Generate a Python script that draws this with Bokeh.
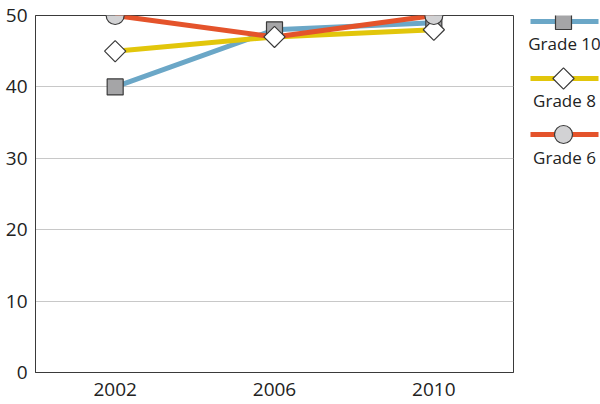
import math
from bokeh.plotting import figure
from bokeh.models import FactorRange, Range1d, ColumnDataSource, FixedTicker
from bokeh.layouts import row
from bokeh.embed import file_html
from bokeh.resources import INLINE
from bokeh.core.properties import value

# ---- data ----
years = ["2002", "2006", "2010"]
grade10 = [40, 48, 49]
grade8 = [45, 47, 48]
grade6 = [50, 47, 50]
grade6_marker_shown = [True, False, True]
series_names = ["Grade 10", "Grade 8", "Grade 6"]
y_ticks = [0, 10, 20, 30, 40, 50]

# ---- styles ----
FONT = "Open Sans"
C_BLUE = "#6ba7c7"
C_YELLOW = "#e2c60b"
C_RED = "#e4532b"
C_EDGE = "#3a3a3a"
SQ_FILL = "#a5a5a7"
CI_FILL = "#d2d2d4"
DI_FILL = "#ffffff"
LW = 5
H = 404
TOP = 15
BOTTOM = 32

p = figure(x_range=FactorRange(factors=years), y_range=Range1d(0, 50),
           width=514, height=H, output_backend="svg", toolbar_location=None,
           min_border_left=35, min_border_right=1, min_border_top=TOP, min_border_bottom=BOTTOM)
p.outline_line_color = C_EDGE
p.outline_line_width = 1
p.background_fill_color = "white"
p.border_fill_color = "white"
p.xgrid.grid_line_color = None
p.ygrid.grid_line_color = "#c8c8c8"
p.ygrid.grid_line_width = 1
p.yaxis.ticker = FixedTicker(ticks=y_ticks)
for ax in (p.xaxis[0], p.yaxis[0]):
    ax.axis_line_color = C_EDGE
    ax.major_tick_line_color = None
    ax.minor_tick_line_color = None
    ax.major_tick_out = 0
    ax.major_tick_in = 0
    ax.major_label_text_font = FONT
    ax.major_label_text_font_size = "19px"
    ax.major_label_text_color = "#222222"
p.yaxis.major_label_standoff = 8
p.xaxis.major_label_standoff = 10

src = ColumnDataSource(dict(x=years, g10=grade10, g8=grade8, g6=grade6))
p.line("x", "g10", source=src, line_color=C_BLUE, line_width=LW)
p.line("x", "g8", source=src, line_color=C_YELLOW, line_width=LW)
p.line("x", "g6", source=src, line_color=C_RED, line_width=LW)

p.scatter("x", "g10", source=src, marker="square", size=16, fill_color=SQ_FILL,
          line_color=C_EDGE, line_width=1.2)
p.scatter("x", "g8", source=src, marker="square", angle=math.pi / 4, size=15,
          fill_color=DI_FILL, line_color=C_EDGE, line_width=1.2)
g6x = [x for x, s in zip(years, grade6_marker_shown) if s]
g6y = [y for y, s in zip(grade6, grade6_marker_shown) if s]
p.scatter(g6x, g6y, marker="circle", size=18, fill_color=CI_FILL,
          line_color=C_EDGE, line_width=1.2)

# ---- legend panel (pixel-like coordinates, frame aligned with main plot) ----
LW_W = 86
lg = figure(x_range=Range1d(0, LW_W), y_range=Range1d(H - BOTTOM, TOP),
            width=LW_W, height=H, output_backend="svg", toolbar_location=None,
            min_border_left=0, min_border_right=0,
            min_border_top=TOP, min_border_bottom=BOTTOM)
lg.axis.visible = False
lg.grid.visible = False
lg.outline_line_color = None
lg.background_fill_color = "white"
lg.border_fill_color = "white"

colors = [C_BLUE, C_YELLOW, C_RED]
line_y = [21, 78, 134]
text_y = [43, 100, 157]
lg.segment(x0=[16] * 3, x1=[84] * 3, y0=line_y, y1=line_y, line_color=colors, line_width=LW)
lg.scatter([49], [line_y[0]], marker="square", size=16, fill_color=SQ_FILL,
           line_color=C_EDGE, line_width=1.2)
lg.scatter([49], [line_y[1]], marker="square", angle=math.pi / 4, size=15,
           fill_color=DI_FILL, line_color=C_EDGE, line_width=1.2)
lg.scatter([49], [line_y[2]], marker="circle", size=18, fill_color=CI_FILL,
           line_color=C_EDGE, line_width=1.2)
lg.text(x=[50] * 3, y=text_y, text=series_names, text_font=value(FONT),
        text_font_size="17px", text_align="center", text_baseline="middle",
        text_color="#222222")

layout = row(p, lg, spacing=0)
open("out.html", "w").write(file_html(layout, INLINE))
